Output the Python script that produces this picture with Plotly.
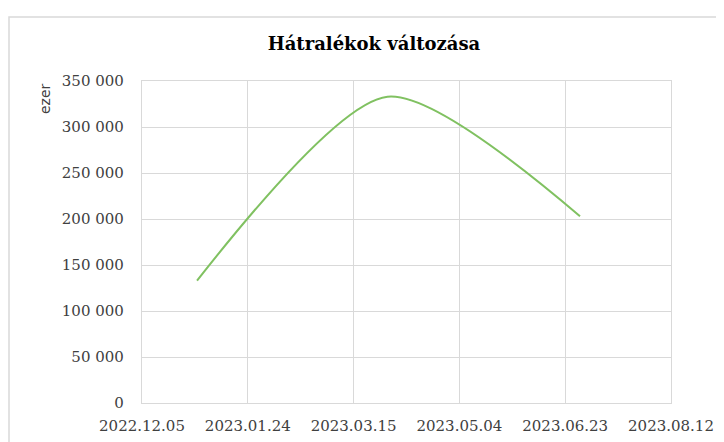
import plotly.graph_objects as go

dates = ["2022-12-31", "2023-03-31", "2023-06-30"]
values = [133000, 333000, 203000]

title_text = "Hátralékok változása"
y_title = "ezer"
x_start = "2022-12-05"
x_end = "2023-08-12"
x_step_days = 50
y_max = 350000
y_step = 50000

# page has an 8px body margin, so the figure is 8px smaller than the window
W, H = 716, 434
ml, mr, mt, mb = 134, 53, 73, 39
PW, PH = W - ml - mr, H - mt - mb

fig = go.Figure()
fig.add_trace(go.Scatter(
    x=dates, y=values, mode="lines",
    line=dict(color="rgb(128,193,97)", width=2, shape="spline", smoothing=0.75),
    hoverinfo="skip", showlegend=False,
))

grid = "#D9D9D9"
tickfont = dict(family="DejaVu Serif", size=15, color="#404040")

fig.update_layout(
    width=W, height=H,
    margin=dict(l=ml, r=mr, t=mt, b=mb, pad=0, autoexpand=False),
    paper_bgcolor="white", plot_bgcolor="white",
    separators=". ",
    title=dict(text=title_text, x=366 / W, xanchor="center",
               y=1 - 35.5 / H, yanchor="middle", automargin=False,
               font=dict(family="DejaVu Serif", size=18, color="#000000", weight="bold")),
    xaxis=dict(
        type="date", automargin=False,
        range=[x_start, x_end],
        tick0=x_start, dtick=x_step_days * 86400000,
        tickformat="%Y.%m.%d",
        showgrid=True, gridcolor=grid, gridwidth=1.3,
        showline=True, linecolor=grid, linewidth=1.3, mirror=True,
        zeroline=False, ticks="", tickfont=tickfont,
        ticklabelstandoff=9,
    ),
    yaxis=dict(
        range=[0, y_max], tick0=0, dtick=y_step, automargin=False,
        tickformat=",d",
        showgrid=True, gridcolor=grid, gridwidth=1.3,
        showline=True, linecolor=grid, linewidth=1.3, mirror=True,
        zeroline=False, ticks="", tickfont=tickfont,
        ticklabelstandoff=14,
    ),
    shapes=[dict(type="rect", xref="paper", yref="paper",
                 x0=(1 - ml) / PW, x1=(W + 20 - ml) / PW,
                 y0=(H - mb - (H + 20)) / PH, y1=(H - mb - 9) / PH,
                 line=dict(color="#D9D9D9", width=1.5), layer="below")],
    annotations=[dict(text=y_title, xref="paper", yref="paper",
                      x=(37 - ml) / PW, y=(H - mb - 91) / PH,
                      xanchor="center", yanchor="middle", textangle=-90, showarrow=False,
                      font=dict(family="DejaVu Sans", size=14, color="#404040"))],
)

fig.write_html("out.html")
